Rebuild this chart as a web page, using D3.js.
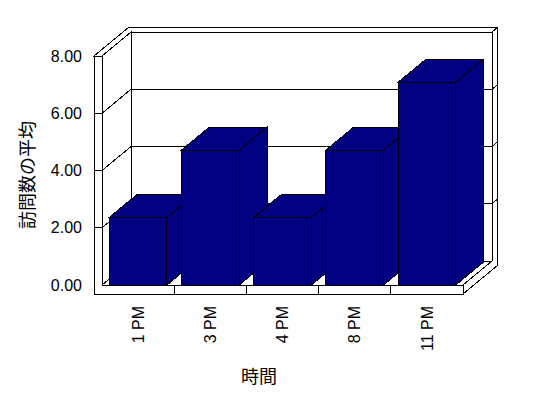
<!DOCTYPE html>
<html>
<head>
<meta charset="utf-8">
<script src="https://cdn.jsdelivr.net/npm/d3@7"></script>
<style>
body { margin: 0; background: #fff; }
svg { display: block; }
</style>
</head>
<body>
<script>
var categories = ["1 PM", "3 PM", "4 PM", "8 PM", "11 PM"];
var values = [2.36, 4.71, 2.36, 4.71, 7.08];
var y_ticks = [0, 2, 4, 6, 8];
var x_title = "時間";
var y_title = "訪問数の平均";

var w = 548, h = 398;
// oblique depth offset for the full depth of the box
var DX = 29, DY = 24;
var wall = 0.2;      // wall thickness, as a fraction of depth
var bar_depth = 0.96;
var wall_w = 8;      // left wall thickness
var floor_h = 9;     // floor thickness
var bar_color = "#000080";

var svg = d3.select("body").append("svg")
.attr("width", w)
.attr("height", h)
.style("shape-rendering", "crispEdges");

var x = d3.scaleBand()
.domain(categories)
.range([102, 463])
.paddingInner(0.2)
.paddingOuter(0.1);

var y = d3.scaleLinear()
.domain([0, 8])
.range([285, 56]);

function P(px, py, z)
{
return [px + z*DX, py - z*DY];
}
function poly(pts)
{
return pts.map(function(p){ return p[0] + "," + p[1]; }).join(" ");
}

var xl = x.range()[0], xr = x.range()[1];
var y0 = y(0), y8 = y(8);

var frame = svg.append("g")
.attr("fill", "#fff")
.attr("stroke", "#000")
.attr("stroke-width", 1);

// back wall inner face
frame.append("polygon")
.attr("points", poly([P(xl, y8, 1), P(xr, y8, 1), P(xr, y0, 1), P(xl, y0, 1)]));
// top of left wall + back wall
frame.append("polygon")
.attr("points", poly([[xl - wall_w, y8], [xl, y8], P(xl, y8, 1), P(xr, y8, 1), P(xr, y8, 1 + wall), P(xl - wall_w, y8, 1 + wall)]));
// right side of back wall + floor
frame.append("polygon")
.attr("points", poly([P(xr, y8, 1), P(xr, y8, 1 + wall), P(xr, y0 + floor_h, 1 + wall), [xr, y0 + floor_h], [xr, y0], P(xr, y0, 1)]));
// left wall inner face
frame.append("polygon")
.attr("points", poly([[xl, y8], P(xl, y8, 1), P(xl, y0, 1), [xl, y0]]));
// floor top
frame.append("polygon")
.attr("points", poly([[xl, y0], [xr, y0], P(xr, y0, 1), P(xl, y0, 1)]));
// front faces of left wall and floor
frame.append("polygon")
.attr("points", poly([[xl - wall_w, y8], [xl, y8], [xl, y0], [xr, y0], [xr, y0 + floor_h], [xl - wall_w, y0 + floor_h]]));

// grid lines
var grid = svg.append("g")
.attr("stroke", "#000")
.attr("fill", "none");
y_ticks.filter(function(d){ return d > 0 && d < 8; }).forEach(function(d)
{
var yy = y(d);
var a = P(xl, yy, 1), b = P(xr, yy, 1), c = P(xr, yy, 1 + wall);
grid.append("polyline")
.attr("points", poly([[xl - wall_w, yy], [xl, yy], a, b, c]));
});

// category ticks on floor front
x.domain().forEach(function(d, i)
{
if (i == 0) return;
var xx = xl + i*x.step();
grid.append("line")
.attr("x1", xx).attr("x2", xx)
.attr("y1", y0).attr("y2", y0 + floor_h);
});

// bars
var bars = svg.append("g")
.attr("fill", bar_color)
.attr("stroke", "#000")
.attr("stroke-linejoin", "miter");
categories.forEach(function(c, i)
{
var bx = x(c), bw = x.bandwidth(), top = y(values[i]);
var g = bars.append("g");
// right side
g.append("polygon")
.attr("points", poly([[bx + bw, top], P(bx + bw, top, bar_depth), P(bx + bw, y0, bar_depth), [bx + bw, y0]]));
// top
g.append("polygon")
.attr("points", poly([[bx, top], [bx + bw, top], P(bx + bw, top, bar_depth), P(bx, top, bar_depth)]));
// front
g.append("rect")
.attr("x", bx)
.attr("y", top)
.attr("width", bw)
.attr("height", y0 - top);
});

// y axis labels
var y_axis = svg.append("g")
.attr("transform", "translate(" + (xl - wall_w) + ",0)")
.call(d3.axisLeft(y).tickValues(y_ticks).tickFormat(d3.format(".2f")).tickSize(0).tickPadding(12));
y_axis.select(".domain").remove();
y_axis.selectAll("text")
.style("font-family", "'Liberation Sans', Arial, sans-serif")
.style("font-size", "16px")
.attr("fill", "#000");

// x axis labels
var x_axis = svg.append("g")
.attr("transform", "translate(0," + (y0 + floor_h) + ")")
.call(d3.axisBottom(x).tickSize(0));
x_axis.select(".domain").remove();
x_axis.selectAll("text")
.attr("transform", "rotate(-90)")
.attr("x", -12)
.attr("y", 0)
.attr("dy", "0.35em")
.style("text-anchor", "end")
.style("font-family", "'Liberation Sans', Arial, sans-serif")
.style("font-size", "16px")
.attr("fill", "#000");

svg.append("text")
.attr("x", 259)
.attr("y", 375)
.attr("text-anchor", "middle")
.attr("dominant-baseline", "central")
.style("font-family", "'Noto Sans CJK JP', sans-serif")
.style("font-size", "18px")
.text(x_title);

svg.append("text")
.attr("transform", "translate(26,175) rotate(-90)")
.attr("text-anchor", "middle")
.attr("dominant-baseline", "central")
.style("font-family", "'Noto Sans CJK JP', sans-serif")
.style("font-size", "18px")
.text(y_title);
</script>
</body>
</html>
